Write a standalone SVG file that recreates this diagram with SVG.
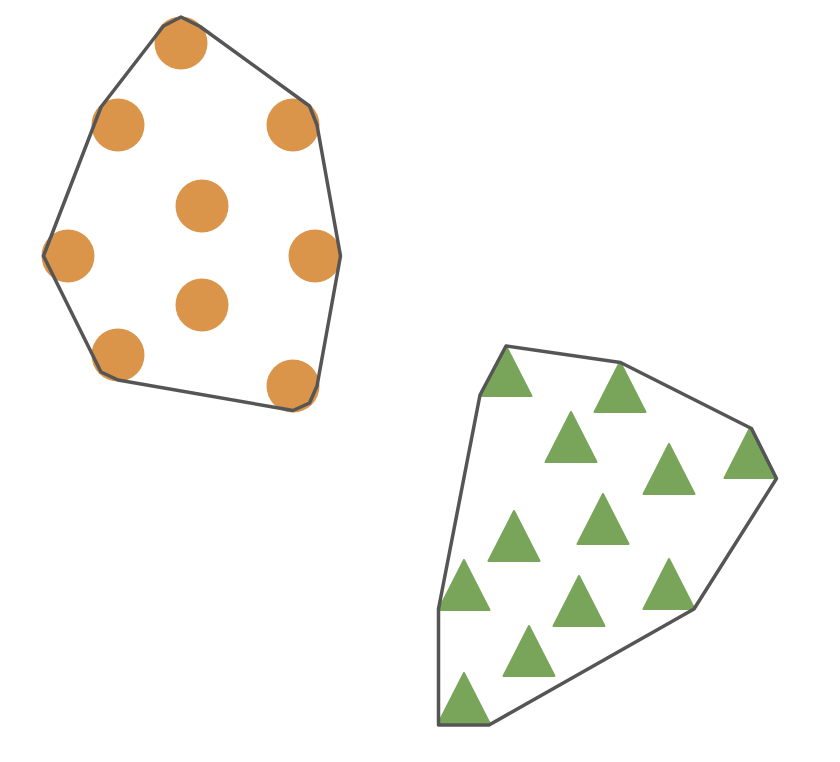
<svg xmlns="http://www.w3.org/2000/svg" width="840" height="762" viewBox="0 0 840 762">
<defs>
<style>
.hull{fill:none;stroke:#555555;stroke-width:3.5;stroke-linejoin:round}
.c{fill:#da954b}
.t{fill:#78a55a;stroke:#78a55a;stroke-width:2;stroke-linejoin:round}
</style>
<polygon id="tri" points="0,-51 -25.5,-1 25.5,-1"/>
</defs>
<rect width="840" height="762" fill="#ffffff"/>
<g id="circles">
<circle class="c" cx="181" cy="43" r="26.5"/>
<circle class="c" cx="118" cy="125" r="26.5"/>
<circle class="c" cx="293" cy="125" r="26.5"/>
<circle class="c" cx="202" cy="206" r="26.5"/>
<circle class="c" cx="68" cy="256" r="26.5"/>
<circle class="c" cx="315" cy="256" r="26.5"/>
<circle class="c" cx="202" cy="305" r="26.5"/>
<circle class="c" cx="118" cy="355" r="26.5"/>
<circle class="c" cx="293" cy="386" r="26.5"/>
</g>
<g id="triangles">
<use href="#tri" class="t" x="506" y="397"/>
<use href="#tri" class="t" x="620" y="413"/>
<use href="#tri" class="t" x="571" y="463"/>
<use href="#tri" class="t" x="669" y="495"/>
<use href="#tri" class="t" x="750" y="479"/>
<use href="#tri" class="t" x="603" y="545"/>
<use href="#tri" class="t" x="514" y="562"/>
<use href="#tri" class="t" x="464" y="611"/>
<use href="#tri" class="t" x="579" y="627"/>
<use href="#tri" class="t" x="669" y="610"/>
<use href="#tri" class="t" x="529" y="677"/>
<use href="#tri" class="t" x="464" y="724"/>
</g>
<g id="hulls">
<polygon id="hull-circles" class="hull" points="181,17 200,26.5 309.5,106 317,125 340.5,256 317,386 309.5,403 293,410.5 118,380 101,372 43.5,256 101,107 163.5,26"/>
<polygon id="hull-triangles" class="hull" points="506,346 620.5,362.5 751.5,428.5 776.5,478.5 694,609 489,725 438.5,725 438.5,609 480,395"/>
</g>
</svg>
